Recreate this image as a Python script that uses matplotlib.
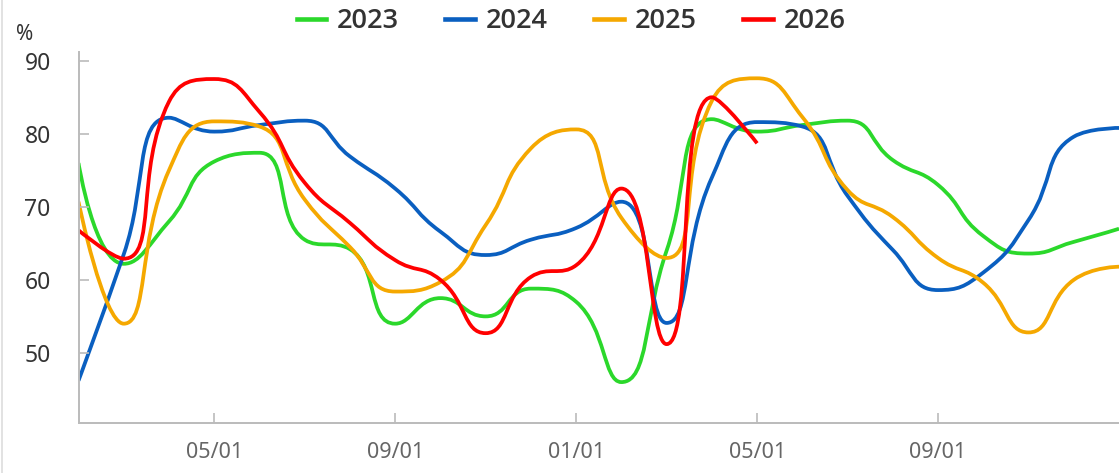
import numpy as np
import matplotlib.pyplot as plt
from matplotlib.path import Path
from matplotlib.patches import PathPatch
from matplotlib.lines import Line2D

plt.rcParams["font.family"] = ["Noto Sans", "DejaVu Sans"]

# 月度数据（每月一个点，从 02/01 开始，共 24 个月）
tick_pos = [3, 7, 11, 15, 19]
tick_labels = ["05/01", "09/01", "01/01", "05/01", "09/01"]
years = ["2023", "2024", "2025", "2026"]
colors = ["#2bd82b", "#0a5fc0", "#f5a800", "#ff0000"]

y2023 = [76.0, 62.2, 68.0, 76.2, 77.4, 65.5, 64.2, 54.0, 57.5, 55.0, 58.8, 57.0,
         46.0, 64.0, 82.0, 80.3, 81.2, 81.8, 76.4, 73.0, 66.0, 63.6, 65.2, 67.0]
y2024 = [46.2, 63.5, 82.2, 80.3, 81.2, 81.8, 76.9, 72.5, 66.6, 63.4, 65.5, 67.1,
         70.7, 54.1, 74.0, 81.6, 81.0, 71.5, 64.1, 58.6, 61.0, 68.2, 79.6, 80.8]
y2025 = [70.7, 54.0, 75.0, 81.7, 81.0, 71.0, 64.5, 58.4, 59.7, 67.5, 78.0, 80.6,
         68.5, 63.0, 84.5, 87.6, 82.3, 72.3, 68.6, 63.0, 59.6, 52.8, 60.0, 61.8]
y2026 = [66.8, 62.9, 84.4, 87.5, 83.0, 73.3, 67.8, 62.7, 60.0, 52.7, 60.4, 62.0,
         72.5, 51.2, 85.0, 78.7]
series = [y2023, y2024, y2025, y2026]


# 仿 echarts 的平滑曲线（在像素坐标下计算贝塞尔控制点）
def smooth_path(ax, xs, ys, smooth=0.5):
    pts = ax.transData.transform(np.column_stack([xs, ys]))
    n = len(pts)
    verts = [pts[0]]
    codes = [Path.MOVETO]
    cp0 = pts[0]
    for i in range(1, n):
        x, y = pts[i]
        px, py = pts[i - 1]
        ncp0 = None
        if i == n - 1:
            cp1 = (x, y)
        else:
            nx, ny = pts[i + 1]
            vx, vy = nx - px, ny - py
            l0 = np.hypot(x - px, y - py)
            l1 = np.hypot(nx - x, ny - y)
            r = l1 / (l0 + l1)
            ncx = x + vx * smooth * r
            ncy = y + vy * smooth * r
            ncx = min(max(ncx, min(nx, x)), max(nx, x))
            ncy = min(max(ncy, min(ny, y)), max(ny, y))
            vx, vy = ncx - x, ncy - y
            c1x = x - vx * l0 / l1
            c1y = y - vy * l0 / l1
            c1x = min(max(c1x, min(px, x)), max(px, x))
            c1y = min(max(c1y, min(py, y)), max(py, y))
            vx, vy = x - c1x, y - c1y
            ncp0 = (x + vx * l1 / l0, y + vy * l1 / l0)
            cp1 = (c1x, c1y)
        verts += [cp0, cp1, (x, y)]
        codes += [Path.CURVE4] * 3
        cp0 = ncp0
    verts = ax.transData.inverted().transform(np.array(verts))
    return Path(verts, codes)


W, H = 1119, 473
fig = plt.figure(figsize=(W / 100, H / 100), dpi=100)
ax = fig.add_axes([78.5 / W, (H - 423) / H, (W - 78.5) / W, (423 - 52) / H])
ax.set_xlim(0, 23)
ax.set_ylim(40.4, 91.2)

for vals, c in zip(series, colors):
    xs = np.arange(len(vals))
    p = smooth_path(ax, xs, vals)
    ax.add_patch(PathPatch(p, fill=False, edgecolor=c, lw=2.7,
                           capstyle="butt", joinstyle="round"))

# 坐标轴样式
for s in ["top", "right"]:
    ax.spines[s].set_visible(False)
for s in ["left", "bottom"]:
    ax.spines[s].set_color("#bbbbbb")
    ax.spines[s].set_linewidth(1.4)

ax.set_yticks([50, 60, 70, 80, 90])
ax.set_xticks(tick_pos)
ax.set_xticklabels(tick_labels)
ax.tick_params(axis="both", direction="in", length=7.5, width=1.2, color="#bbbbbb")
ax.tick_params(axis="y", labelsize=16.5, labelcolor="#333333", pad=20)
ax.tick_params(axis="x", labelsize=15.5, labelcolor="#666666", pad=14)

fig.text(24.5 / W, 1 - 35 / H, "%", fontsize=15, color="#333333",
         ha="center", va="center")

# 左侧边框线
fig.add_artist(Line2D([1.5 / W, 1.5 / W], [0, 1], color="#dddddd", lw=1.2))

handles = [Line2D([], [], color=c, lw=3.3) for c in colors]
fig.legend(handles, years, loc="center", bbox_to_anchor=(571 / W, 1 - 21 / H),
           ncol=4, frameon=False, handlelength=1.1, handletextpad=0.4,
           columnspacing=1.7, borderpad=0,
           prop={"family": ["Open Sans", "DejaVu Sans"], "size": 19.5,
                 "weight": 600},
           labelcolor="#333333")

fig.savefig("out.png", dpi=100)
